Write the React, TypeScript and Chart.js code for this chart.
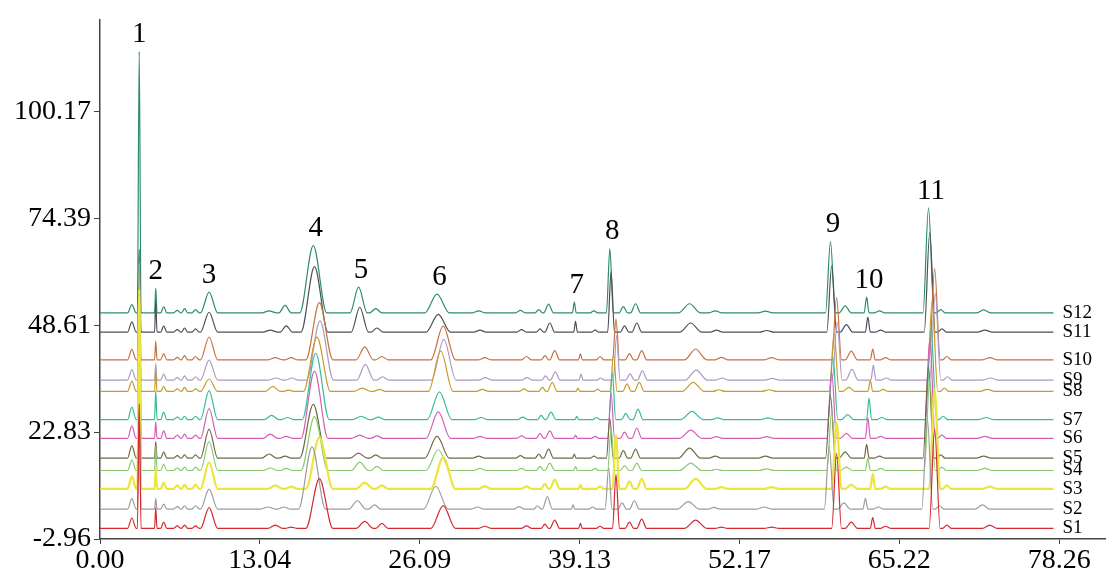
import { useEffect, useRef } from "react";
import { Chart, registerables } from "chart.js";

Chart.register(...registerables);

// stacked chromatograms S1..S12
const sampleNames = ["S1", "S2", "S3", "S4", "S5", "S6", "S7", "S8", "S9", "S10", "S11", "S12"];
const sampleColors = [
  "#d42a2f", "#9c9c9c", "#ece53c", "#8ac96f", "#6d6a45", "#d55eb6",
  "#35bd98", "#c99a2c", "#ab9cbf", "#c8703f", "#4c5058", "#2e8c6c",
];

// vertical offset of each trace (y units)
const baselineOffsets = [-0.39, 4.26, 9.15, 13.56, 16.54, 21.31, 25.84, 32.63, 35.37, 40.26, 46.93, 51.58];
// small retention drift per sample (min), seen on the broad peaks
const retentionShift = [0.3, -0.3, 0.3, -0.1, -0.2, -0.1, 0, 0.1, 0.35, 0.3, -0.1, -0.2];

const runStart = 0;
const runEnd = 77.8;

// peak table: retention time (min) and half base width (min)
const featureTimes = [
  2.6, 3.2, 4.55, 5.2, 6.3, 6.9, 7.8, 8.9, 14.0, 15.3, 17.6, 21.3, 22.7, 27.7, 31.1, 34.5, 36.0,
  36.8, 38.9, 40.5, 41.8, 42.9, 43.9, 48.3, 50.4, 54.5, 59.8, 61.0, 62.75, 63.8, 67.8, 68.8, 72.3,
];
const featureHalfWidths = [
  0.35, 0.15, 0.1, 0.25, 0.3, 0.25, 0.3, 0.7, 0.6, 0.5, 1.1, 0.7, 0.5, 1.0, 0.5, 0.4, 0.3,
  0.4, 0.15, 0.3, 0.28, 0.35, 0.4, 0.9, 0.5, 0.6, 0.4, 0.5, 0.2, 0.4, 0.45, 0.35, 0.6,
];

// peak heights above each baseline
const heightsS1 = [2.5, 30, 5, 1.5, 0.6, 0.8, 0.6, 5, 0.8, 0.3, 12, 1.7, 1.2, 5.5, 0.5, 0.6, 1.0, 2.0, 1.2, 0.5, 13, 1.5, 2.2, 2.0, 0.3, 0.3, 18, 1.5, 2.6, 0.5, 24, 0.8, 0.8];
const heightsS2 = [2.5, 25, 2.5, 1.2, 0.6, 0.8, 0.8, 4.8, 0.5, 0.5, 15, 2, 1, 5.5, 0.5, 0.6, 0.8, 3.0, 1.0, 0.5, 10, 1.5, 2.0, 1.8, 0.4, 0.5, 15, 1.5, 2.6, 0.5, 22, 0.8, 1.0];
const heightsS3 = [3, 48, 5, 1.5, 0.8, 1.0, 1.0, 6.4, 0.8, 0.5, 12.4, 1.5, 0.8, 7.6, 0.6, 0.6, 1.2, 2.2, 1.0, 0.6, 12.9, 1.8, 2.4, 2.4, 0.4, 0.4, 16, 1.0, 3.6, 0.5, 24, 0.8, 0.5];
const heightsS4 = [2.5, 50, 6, 1.5, 0.6, 0.8, 0.8, 7, 0.6, 0.5, 13, 2, 1.0, 5, 0.5, 0.5, 1.0, 1.8, 1.0, 0.5, 10, 1.2, 1.8, 1.8, 0.3, 0.4, 14, 0.8, 3, 0.5, 22, 0.8, 0.5];
const heightsS5 = [3, 35, 4, 1.5, 0.6, 0.8, 0.8, 7, 1.0, 0.5, 13, 1.2, 0.8, 5.3, 0.5, 0.6, 1.0, 2.2, 1.0, 0.5, 9.5, 1.8, 2.2, 2.4, 0.5, 0.5, 15, 1.5, 3.3, 0.5, 22, 0.8, 0.5];
const heightsS6 = [3, 40, 4, 1.8, 0.8, 1.0, 0.8, 7.2, 1.0, 0.5, 16.2, 0.8, 0.6, 6.4, 0.5, 0.6, 1.2, 1.8, 0.8, 0.5, 11, 1.5, 2.5, 2.0, 0.4, 0.4, 16, 1.2, 5, 0.5, 24, 0.8, 0.5];
const heightsS7 = [3, 40, 7, 1.8, 0.6, 0.8, 0.8, 7, 1.0, 0.5, 16, 0.8, 0.6, 6.7, 0.5, 0.6, 1.0, 1.8, 0.8, 0.5, 11.2, 1.5, 2.5, 2.0, 0.4, 0.4, 15, 1.2, 5.2, 0.5, 22, 0.8, 0.5];
const heightsS8 = [2.5, 30, 5, 1.2, 0.6, 1.0, 0.6, 3, 1.2, 0.3, 13.1, 0.8, 0.5, 9.8, 0.5, 0.6, 1.0, 2.2, 0.8, 0.5, 9, 1.8, 2.2, 2.2, 0.4, 0.4, 14, 1.0, 2.6, 0.5, 22, 0.8, 0.5];
const heightsS9 = [2.5, 28, 4, 1.5, 0.6, 1.0, 0.8, 4.8, 0.5, 0.5, 14.3, 3.8, 0.8, 9.8, 0.6, 0.6, 1.0, 2.0, 1.5, 0.5, 10.7, 1.5, 2.2, 2.4, 0.5, 0.4, 14, 2.6, 3.6, 0.5, 21, 0.8, 0.5];
const heightsS10 = [2.5, 22, 4.5, 1.5, 0.6, 1.0, 0.8, 5.5, 0.5, 0.5, 13.8, 3.1, 0.8, 8.1, 0.5, 0.8, 1.0, 2.2, 1.5, 0.8, 9.8, 1.5, 2.2, 2.6, 0.6, 0.5, 15, 2.1, 2.6, 0.5, 22, 0.8, 0.5];
const heightsS11 = [2.5, 20, 7.5, 1.5, 0.6, 1.0, 0.8, 4.8, 0.5, 1.5, 15.8, 6, 1.0, 4.3, 0.5, 0.6, 0.8, 2.2, 2.6, 0.5, 14.6, 1.5, 2.2, 2.2, 0.5, 0.4, 16, 1.8, 3.6, 0.5, 24, 0.8, 0.5];
const heightsS12 = [2, 63, 6, 1.5, 0.6, 1.0, 0.8, 5, 0.5, 1.8, 16.2, 6.2, 1.0, 4.5, 0.5, 0.6, 0.8, 2.1, 2.6, 0.5, 15.5, 1.5, 2.2, 2.2, 0.5, 0.4, 17.2, 1.7, 3.8, 0.5, 25.3, 0.8, 0.7];
const sampleHeights = [
  heightsS1, heightsS2, heightsS3, heightsS4, heightsS5, heightsS6,
  heightsS7, heightsS8, heightsS9, heightsS10, heightsS11, heightsS12,
];

// numbered peaks and the feature they sit on
const peakLabels = ["1", "2", "3", "4", "5", "6", "7", "8", "9", "10", "11"];
const peakFeatureIndex = [1, 2, 7, 10, 11, 13, 18, 20, 26, 28, 30];

const xTicks = [0, 13.04, 26.09, 39.13, 52.17, 65.22, 78.26];
const yTicks = [-2.96, 22.83, 48.61, 74.39, 100.17];

const serif = "'Liberation Serif', 'Times New Roman', serif";

function buildTrace(s: number) {
  const base = baselineOffsets[s];
  const pts: { x: number; y: number }[] = [{ x: runStart, y: base }];
  featureTimes.forEach((t0, i) => {
    const t = t0 > 10 ? t0 + retentionShift[s] : t0;
    const w = featureHalfWidths[i];
    pts.push({ x: t - w, y: base }, { x: t, y: base + sampleHeights[s][i] }, { x: t + w, y: base });
  });
  pts.push({ x: runEnd, y: base });
  return pts;
}

const labelPlugin = {
  id: "chromLabels",
  afterDatasetsDraw(chart: any) {
    const { ctx } = chart;
    const xs = chart.scales.x;
    const ys = chart.scales.y;
    ctx.save();
    ctx.fillStyle = "#000";
    ctx.textAlign = "center";
    ctx.textBaseline = "middle";
    ctx.font = `29px ${serif}`;
    peakLabels.forEach((label, k) => {
      const fi = peakFeatureIndex[k];
      const top = Math.max(...sampleHeights.map((h, s) => baselineOffsets[s] + h[fi]));
      ctx.fillText(label, xs.getPixelForValue(featureTimes[fi]), ys.getPixelForValue(top) - 17);
    });
    ctx.textAlign = "left";
    ctx.font = `19px ${serif}`;
    sampleNames.forEach((name, s) => {
      ctx.fillText(name, xs.getPixelForValue(runEnd) + 9, ys.getPixelForValue(baselineOffsets[s]));
    });
    ctx.restore();
  },
};

function ChromatogramChart() {
  const chartRef = useRef<HTMLCanvasElement | null>(null);
  const chartInstance = useRef<Chart | null>(null);

  useEffect(() => {
    if (!chartRef.current) return;
    const ctx = chartRef.current.getContext("2d");
    if (!ctx) return;

    if (chartInstance.current) {
      chartInstance.current.destroy();
    }

    chartInstance.current = new Chart(ctx, {
      type: "line",
      data: {
        datasets: sampleNames.map((name, s) => ({
          label: name,
          data: buildTrace(s),
          borderColor: sampleColors[s],
          borderWidth: s === 2 ? 2.2 : 1.2,
          pointRadius: 0,
          fill: false,
          cubicInterpolationMode: "monotone" as const,
        })),
      },
      options: {
        animation: false,
        responsive: false,
        parsing: false,
        layout: { padding: { top: 14, right: 1, left: 0, bottom: 0 } },
        plugins: {
          legend: { display: false },
          tooltip: { enabled: false },
        },
        scales: {
          x: {
            type: "linear",
            min: 0,
            max: 82,
            afterBuildTicks: (scale: any) => {
              scale.ticks = xTicks.map((v) => ({ value: v }));
            },
            afterFit: (scale: any) => {
              scale.height = 33;
            },
            grid: { drawOnChartArea: false, drawTicks: true, tickLength: 5, color: "#444" },
            border: { color: "#444", width: 1.5 },
            ticks: {
              color: "#000",
              font: { family: serif, size: 28 },
              padding: 0,
              maxRotation: 0,
              autoSkip: false,
              callback: (v: any) => Number(v).toFixed(2),
            },
          },
          y: {
            type: "linear",
            min: -2.96,
            max: 122.26,
            afterBuildTicks: (scale: any) => {
              scale.ticks = yTicks.map((v) => ({ value: v }));
            },
            afterFit: (scale: any) => {
              scale.width = 100;
            },
            grid: { drawOnChartArea: false, drawTicks: true, tickLength: 6, color: "#444" },
            border: { color: "#444", width: 1.5 },
            ticks: {
              color: "#000",
              font: { family: serif, size: 28 },
              padding: 3,
              autoSkip: false,
              callback: (v: any) => Number(v).toFixed(2),
            },
          },
        },
      },
      plugins: [labelPlugin],
    });

    return () => {
      if (chartInstance.current) {
        chartInstance.current.destroy();
        chartInstance.current = null;
      }
    };
  }, []);

  return <canvas ref={chartRef} width={1106} height={572} />;
}

export default function App() {
  return (
    <div style={{ position: "fixed", left: 0, top: 0, width: 1106, height: 572, background: "#fff" }}>
      <ChromatogramChart />
    </div>
  );
}
